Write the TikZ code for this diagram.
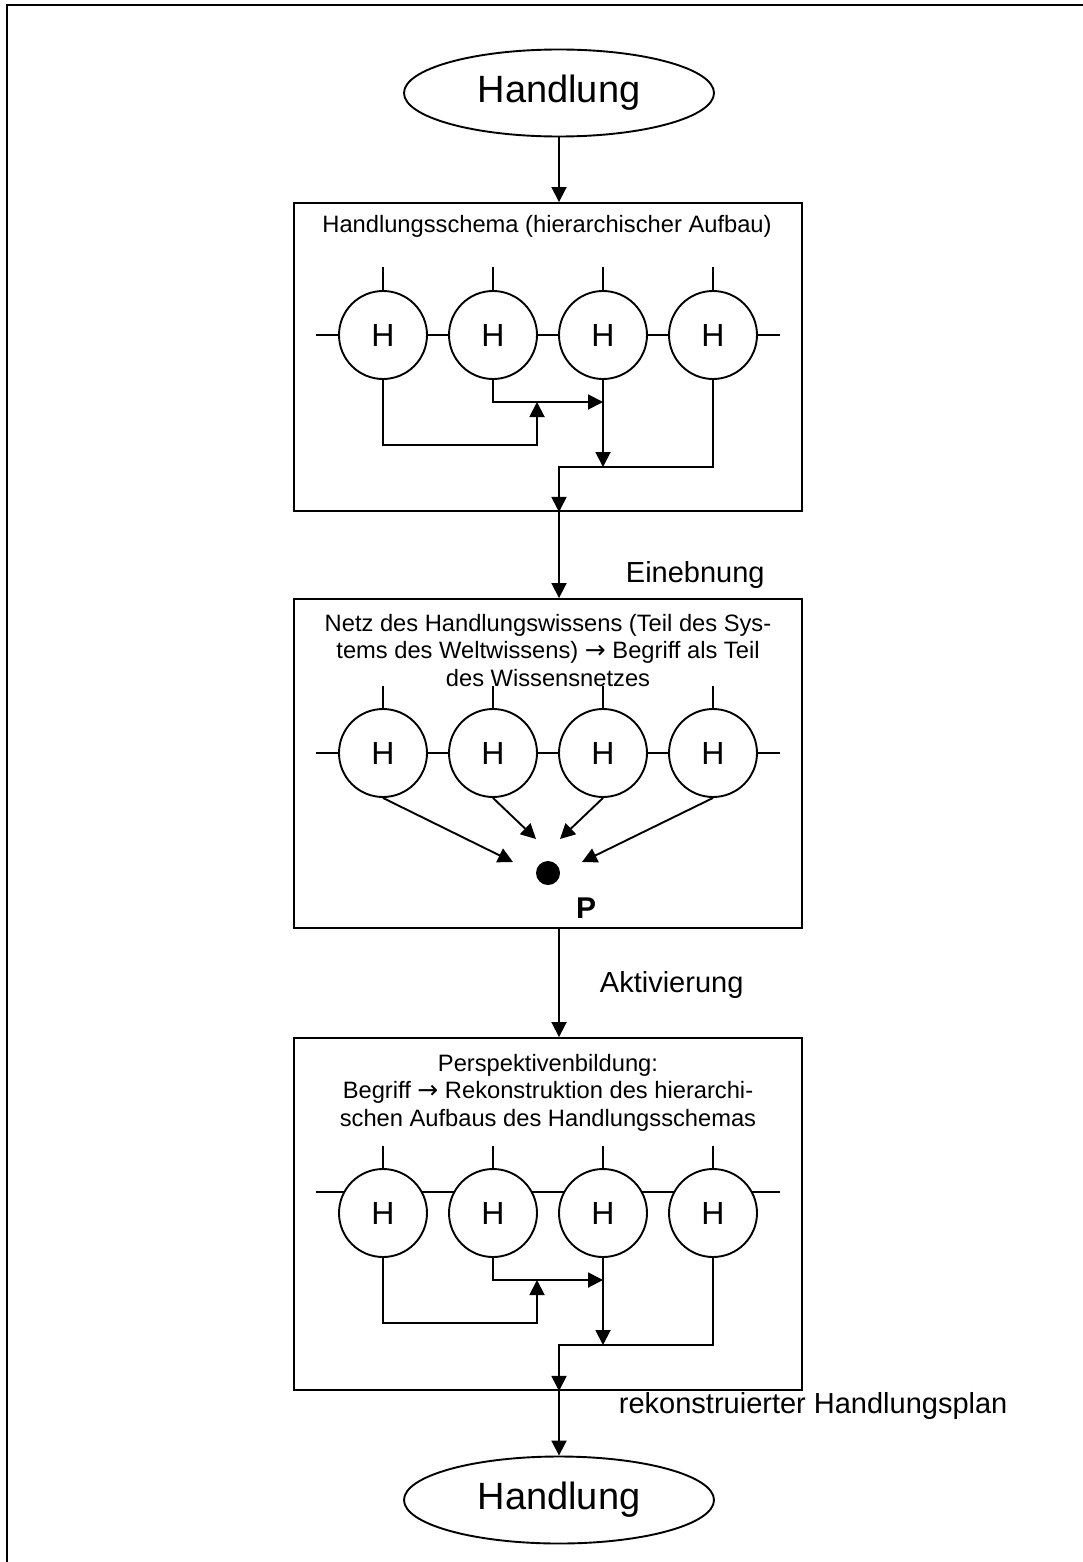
\documentclass[tikz,border=0pt]{standalone}
\usepackage{fontspec}
\setmainfont{Liberation Sans}
\newfontfamily\arrowfont{DejaVu Sans}
\newcommand{\tto}{{\arrowfont\fontsize{25}{25}\selectfont →}}
\usetikzlibrary{arrows.meta,shapes.geometric}
\begin{document}
\begin{tikzpicture}[x=1pt,y=-1pt,line width=1.9pt,
  arr/.style={-{Triangle[length=15pt,width=15pt]}},
  hnode/.style={circle,draw,fill=white,minimum size=88pt,inner sep=0pt,
    font=\fontsize{32}{32}\selectfont},
  endnode/.style={ellipse,draw,minimum width=310pt,minimum height=87pt,
    inner sep=0pt,font=\fontsize{38}{38}\selectfont},
  stage/.style={rectangle,draw,minimum width=508pt,inner sep=0pt},
  title/.style={font=\fontsize{23.7}{27.5}\selectfont,align=center,
    anchor=base,inner sep=0pt},
  lbl/.style={font=\fontsize{29}{29}\selectfont,anchor=base west,inner sep=0pt}
]
\useasboundingbox (0,0) rectangle (1083,1562);

% outer frame (runs off the page at right and bottom)
\draw (7,1575) -- (7,5) -- (1095,5);

% ---------- nodes: start, stages, end ----------
\node[endnode] (top) at (559,93) {Handlung};
\node[stage,minimum height=308pt] (s1) at (548,357) {};
\node[stage,minimum height=329pt] (s2) at (548,763.5) {};
\node[stage,minimum height=352pt] (s3) at (548,1214) {};
\node[endnode] (bot) at (559,1500) {Handlung};

% ---------- stage 1: hierarchical action schema ----------
\node[title] (t1) at (547,233) {Handlungsschema (hierarchischer Aufbau)};
\draw (316,335) -- (780,335);
\foreach \i/\x in {1/383,2/493,3/603,4/713}{
  \node[hnode] (a\i) at (\x,335) {H};
  \draw (a\i.north) -- ++(0,-23);
}
\coordinate (k1) at (537,445);
\coordinate (e1) at (537,402);
\coordinate (e2) at (603,402);
\coordinate (e3) at (603,467);
\coordinate (m1) at (559,467);
\draw[arr] (a1.south) |- (k1) -- (e1);
\draw[arr] (a2.south) |- (e2);
\draw[arr] (a3.south) -- (e3);
\draw[arr] (a4.south) |- (m1) -- (m1 |- s1.south);

\draw[arr] (top.south) -- (top.south |- s1.north);
\draw[arr] (m1 |- s1.south) -- (m1 |- s2.north);
\node[lbl] (l1) at (625,582) {Einebnung};

% ---------- stage 2: knowledge network ----------
% (base anchor of a multi-line title = baseline of its last line)
\node[title] (t2) at (548,686) {Netz des Handlungswissens (Teil des Sys-\\tems des Weltwissens) \tto{} Begriff als Teil\\des Wissensnetzes};
\draw (316,753) -- (780,753);
\foreach \i/\x in {1/383,2/493,3/603,4/713}{
  \node[hnode] (b\i) at (\x,753) {H};
  \draw (b\i.north) -- ++(0,-22);
}
\node[circle,fill,inner sep=0pt,minimum size=24pt] (p) at (548,873) {};
\node[font=\fontsize{30}{30}\selectfont\bfseries,anchor=base,inner sep=0pt] (pl) at (586,918) {P};
\coordinate (q1) at (513,862);
\coordinate (q2) at (536,839);
\coordinate (q3) at (560,839);
\coordinate (q4) at (582,862);
\foreach \i in {1,2,3,4}{\draw[arr] (b\i.south) -- (q\i);}

\draw[arr] (s2.south -| top) -- (s3.north -| top);
\node[lbl] (l2) at (599,992) {Aktivierung};

% ---------- stage 3: perspective building ----------
\node[title] (t3) at (548,1126) {Perspektivenbildung:\\Begriff \tto{} Rekonstruktion des hierarchi-\\schen Aufbaus des Handlungsschemas};
\draw (316,1192) -- (780,1192);
\foreach \i/\x in {1/383,2/493,3/603,4/713}{
  \node[hnode] (f\i) at (\x,1213) {H};
  \draw (f\i.north) -- ++(0,-22);
}
\coordinate (k3) at (537,1323);
\coordinate (g1) at (537,1280);
\coordinate (g2) at (603,1280);
\coordinate (g3) at (603,1345);
\coordinate (m3) at (559,1345);
\draw[arr] (f1.south) |- (k3) -- (g1);
\draw[arr] (f2.south) |- (g2);
\draw[arr] (f3.south) -- (g3);
\draw[arr] (f4.south) |- (m3) -- (m3 |- s3.south);

\node[lbl] (l3) at (618,1413) {rekonstruierter Handlungsplan};
\draw[arr] (m3 |- s3.south) -- (bot.north);
\end{tikzpicture}
\end{document}
